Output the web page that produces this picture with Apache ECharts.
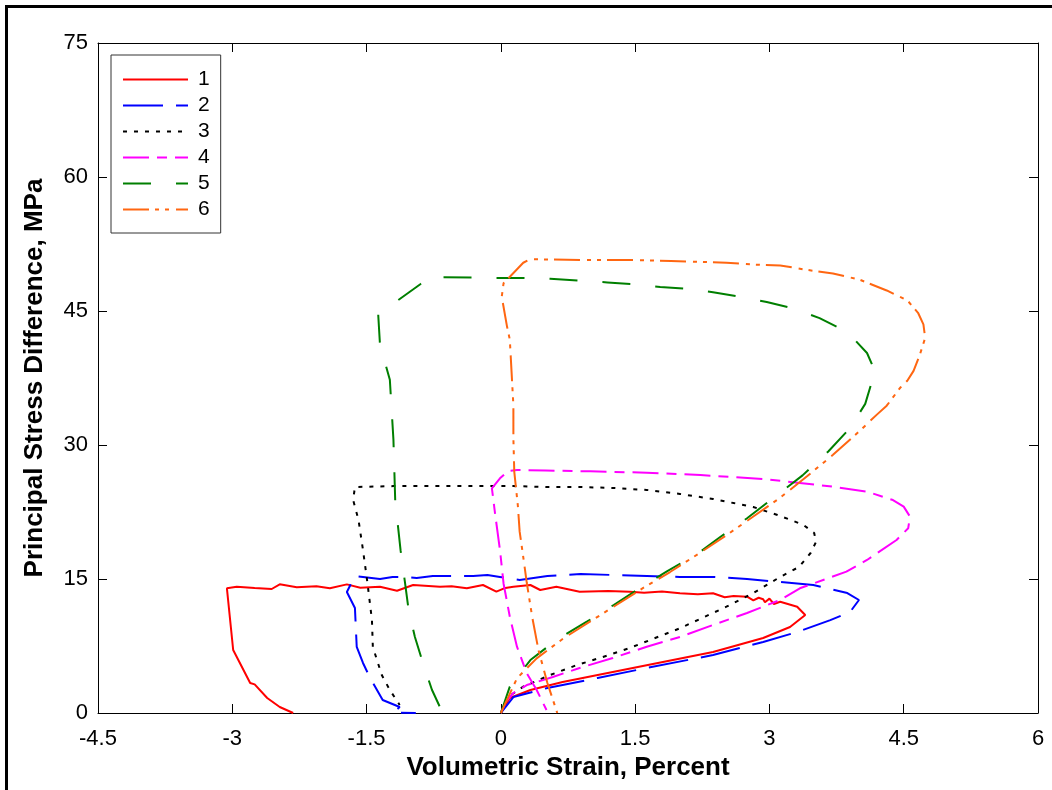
<!DOCTYPE html>
<html>
<head>
<meta charset="utf-8">
<script src="https://cdn.jsdelivr.net/npm/echarts@6/dist/echarts.min.js"></script>
<style>
  html, body { margin: 0; padding: 0; background: #fff; }
  #chart { width: 1052px; height: 790px; }
</style>
</head>
<body>
<div id="chart"></div>
<script>
// Axis ranges and tick spacing
const xRange = { min: -4.5, max: 6, interval: 1.5 };
const yRange = { min: 0, max: 75, interval: 15 };

const seriesNames = ['1', '2', '3', '4', '5', '6'];

// Each curve: [volumetric strain %, principal stress difference MPa]
const curve1 = [
  [0, 0], [0.10, 1.68], [0.33, 2.57], [0.69, 3.47], [1.25, 4.59], [1.81, 5.71], [2.37, 6.83],
  [2.93, 8.40], [3.23, 9.63], [3.40, 10.97], [3.40, 11.16], [3.31, 11.9], [3.12, 12.46],
  [3.05, 12.2], [3.0, 12.8], [2.95, 12.4], [2.93, 12.73], [2.88, 12.9], [2.82, 12.6],
  [2.75, 13.02], [2.6, 13.1], [2.5, 12.95], [2.37, 13.4], [2.2, 13.3], [2.0, 13.4],
  [1.8, 13.6], [1.6, 13.45], [1.44, 13.58], [1.2, 13.65], [0.88, 13.58], [0.62, 14.14],
  [0.44, 13.77], [0.33, 14.33], [0.14, 14.14], [0.05, 14.0], [-0.05, 13.58], [-0.20, 14.33],
  [-0.38, 13.96], [-0.55, 14.2], [-0.68, 14.14], [-0.85, 14.25], [-0.98, 14.33], [-1.16, 13.69],
  [-1.35, 14.14], [-1.57, 14.03], [-1.72, 14.4], [-1.91, 13.96], [-2.06, 14.2], [-2.28, 14.07],
  [-2.47, 14.4], [-2.56, 13.88], [-2.75, 14.0], [-2.95, 14.14], [-3.06, 13.96],
  [-2.99, 7.05], [-2.80, 3.36], [-2.75, 3.2], [-2.61, 1.68], [-2.47, 0.67], [-2.32, 0]
];

const curve2 = [
  [0, 0], [0.14, 1.79], [0.52, 2.8], [1.08, 3.92], [1.63, 5.04], [2.37, 6.49], [2.93, 7.95],
  [3.31, 9.07], [3.68, 10.4], [3.90, 11.3], [4.0, 12.65], [3.87, 13.43], [3.49, 14.33],
  [3.12, 14.66], [2.75, 15.0], [2.37, 15.23], [2.0, 15.23], [1.63, 15.34], [1.25, 15.45],
  [0.89, 15.56], [0.52, 15.34], [0.21, 14.89], [-0.01, 15.23], [-0.15, 15.45], [-0.31, 15.34],
  [-0.76, 15.34], [-0.94, 15.11], [-1.05, 15.23], [-1.21, 15.23], [-1.35, 15.0], [-1.54, 15.23],
  [-1.63, 15.34], [-1.72, 13.55], [-1.63, 11.75], [-1.61, 7.39], [-1.54, 5.6], [-1.46, 3.92],
  [-1.32, 1.46], [-1.13, 0.67], [-1.2, 0.05], [-0.95, 0]
];

const curve3 = [
  [0, 0], [0.08, 1.8], [0.25, 2.95], [0.55, 4.25], [0.85, 5.37], [1.14, 6.27], [1.44, 7.28],
  [2.0, 9.48], [2.52, 11.9], [2.82, 13.43], [3.12, 15.23], [3.33, 16.35], [3.46, 17.91],
  [3.52, 19.14], [3.50, 20.15], [3.38, 21.05], [3.24, 21.6], [3.09, 22.16], [2.82, 23.06],
  [2.6, 23.5], [2.37, 23.96], [2.0, 24.52], [1.63, 24.97], [1.25, 25.19], [0.89, 25.3],
  [0.52, 25.3], [0.14, 25.4], [-0.23, 25.4], [-0.8, 25.4], [-1.2, 25.4], [-1.63, 25.3],
  [-1.65, 23.84], [-1.59, 21.6], [-1.54, 18.25], [-1.49, 14.55], [-1.44, 10.41], [-1.43, 7.39],
  [-1.33, 4.25], [-1.24, 2.57], [-1.13, 0.9]
];

const curve4 = [
  [0, 0], [0.05, 1.2], [0.14, 2.24], [0.29, 3.13], [0.58, 4.03], [0.88, 5.04], [1.25, 6.16],
  [1.63, 7.42], [2.00, 8.51], [2.37, 9.85], [2.75, 11.2], [3.12, 12.65], [3.34, 13.96],
  [3.86, 15.82], [4.09, 17.13], [4.42, 19.37], [4.55, 20.68], [4.57, 21.98], [4.50, 23.1],
  [4.38, 23.84], [4.09, 24.78], [3.71, 25.33], [3.34, 25.75], [2.97, 26.16], [2.60, 26.4],
  [2.23, 26.64], [1.63, 26.9], [1.0, 27.05], [0.5, 27.15], [0.18, 27.2], [0.08, 27.09],
  [-0.01, 26.27], [-0.10, 25.15], [-0.065, 22.35], [-0.01, 18.25], [0.03, 14.5], [0.10, 10.78],
  [0.18, 7.42], [0.29, 4.44], [0.40, 2.57], [0.51, 0.34]
];

const curve5 = [
  [0, 0], [0.10, 2.95], [0.33, 5.93], [0.62, 8.17], [0.96, 10.22], [1.26, 12.09], [1.55, 13.96],
  [1.85, 15.82], [2.23, 18.06], [2.45, 19.7], [2.75, 21.8], [3.06, 24.2], [3.37, 26.6],
  [3.66, 29.3], [3.90, 31.9], [4.07, 34.6], [4.16, 37.6], [4.12, 38.2], [4.16, 38.7],
  [4.09, 40.3], [3.87, 42.65], [3.56, 44.2], [3.26, 45.3], [2.97, 46.0], [2.67, 46.6],
  [2.37, 47.1], [2.08, 47.5], [1.78, 47.7], [1.48, 48.0], [1.19, 48.2], [0.89, 48.4],
  [0.55, 48.6], [0.25, 48.7], [-0.04, 48.7], [-0.81, 48.8], [-0.9, 48.0], [-1.37, 44.6],
  [-1.35, 41.2], [-1.24, 37.3], [-1.20, 30.6], [-1.18, 23.8], [-1.12, 18.2], [-1.07, 14.55],
  [-1.03, 11.5], [-0.96, 8.5], [-0.87, 5.6], [-0.77, 2.6], [-0.65, 0]
];

const curve6 = [
  [0, 0], [0.18, 3.88], [0.40, 6.12], [0.70, 8.36], [0.99, 10.19], [1.29, 12.09], [1.59, 14.0],
  [1.89, 15.78], [2.22, 17.9], [2.52, 19.9], [2.82, 22.0], [3.12, 24.1], [3.42, 26.5],
  [3.71, 28.9], [4.01, 31.6], [4.20, 33.4], [4.31, 34.4], [4.46, 36.4], [4.54, 37.2],
  [4.61, 38.3], [4.68, 40.1], [4.74, 42.0], [4.72, 43.5], [4.66, 44.8], [4.54, 46.2],
  [4.31, 47.3], [4.01, 48.5], [3.71, 49.2], [3.42, 49.6], [3.12, 50.1], [2.82, 50.2],
  [2.52, 50.4], [2.22, 50.5], [1.90, 50.6], [1.49, 50.7], [0.89, 50.7], [0.33, 50.8],
  [0.25, 50.4], [0.03, 48.1], [0.01, 46.6], [0.07, 43.2], [0.10, 41.8], [0.12, 38.1],
  [0.14, 34.4], [0.14, 30.7], [0.15, 27.0], [0.19, 23.2], [0.21, 20.3], [0.24, 18.2],
  [0.29, 14.55], [0.35, 10.75], [0.42, 7.05], [0.52, 3.36], [0.63, 0]
];

const curves = [curve1, curve2, curve3, curve4, curve5, curve6];
const colors = ['#ff0000', '#0000ff', '#000000', '#ff00ff', '#007f00', '#ff6611'];
const dashes = ['solid', [40, 13], [4, 7], [26, 8, 10, 8], [28, 25], [26, 6, 4, 6, 4, 7]];

const FONT = 'Liberation Sans, Arial, Helvetica, sans-serif';

function axisBase(range, opts) {
  return Object.assign({
    type: 'value',
    min: range.min,
    max: range.max,
    interval: range.interval,
    axisLine: { show: true, onZero: false, lineStyle: { color: '#000', width: 1 } },
    axisTick: { show: true, inside: true, length: 9, lineStyle: { color: '#000', width: 1 } },
    splitLine: { show: false }
  }, opts);
}

const chart = echarts.init(document.getElementById('chart'), null, { renderer: 'canvas' });

chart.setOption({
  animation: false,
  backgroundColor: '#fff',
  textStyle: { fontFamily: FONT },
  grid: { left: 98, right: 14, top: 43, bottom: 77, show: false },
  legend: {
    orient: 'vertical',
    left: 111,
    top: 55,
    data: seriesNames,
    itemWidth: 65,
    itemHeight: 14,
    itemGap: 5,
    padding: [14, 11, 13, 11],
    borderColor: '#333',
    borderWidth: 1,
    backgroundColor: '#fff',
    // legend keys show only the line, no marker
    itemStyle: { color: 'transparent', borderColor: 'transparent', borderWidth: 0, opacity: 0 },
    textStyle: { fontSize: 21, color: '#000', fontFamily: FONT, padding: [0, 0, 0, 5], lineHeight: 20 }
  },
  xAxis: [
    axisBase(xRange, {
      position: 'bottom',
      axisLabel: { fontSize: 22, color: '#000', margin: 15, fontFamily: FONT },
      name: 'Volumetric Strain, Percent',
      nameLocation: 'middle',
      nameGap: 39,
      nameTextStyle: { fontSize: 26, fontWeight: 'bold', color: '#000', fontFamily: FONT }
    }),
    axisBase(xRange, { position: 'top', axisLabel: { show: false } })
  ],
  yAxis: [
    axisBase(yRange, {
      position: 'left',
      axisLabel: { fontSize: 22, color: '#000', margin: 10, fontFamily: FONT },
      name: 'Principal Stress Difference, MPa',
      nameLocation: 'middle',
      nameGap: 50,
      nameTextStyle: { fontSize: 26, fontWeight: 'bold', color: '#000', fontFamily: FONT }
    }),
    axisBase(yRange, { position: 'right', axisLabel: { show: false } })
  ],
  graphic: [{
    type: 'polyline',
    shape: { points: [[6.5, 790], [6.5, 6.5], [1052, 6.5]] },
    style: { stroke: '#000', lineWidth: 3, fill: null },
    silent: true
  }],
  series: curves.map((data, i) => ({
    name: seriesNames[i],
    type: 'line',
    data: data,
    xAxisIndex: 0,
    yAxisIndex: 0,
    symbol: 'none',
    showSymbol: false,
    smooth: false,
    lineStyle: { color: colors[i], width: 2, type: dashes[i] },
    itemStyle: { color: colors[i] },
    emphasis: { disabled: true }
  }))
});
</script>
</body>
</html>
